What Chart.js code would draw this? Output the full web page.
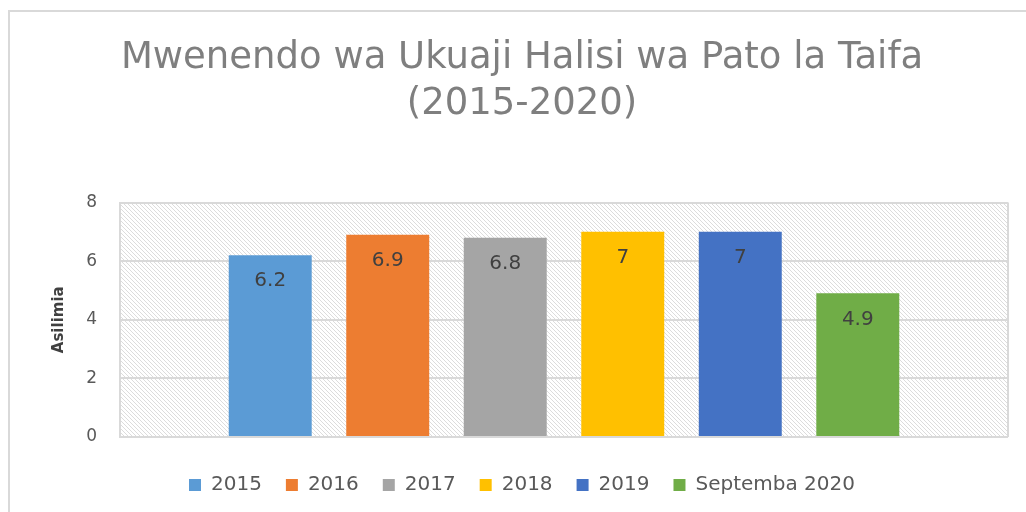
<!DOCTYPE html>
<html>
<head>
<meta charset="utf-8">
<script src="https://cdn.jsdelivr.net/npm/chart.js@4.4.1/dist/chart.umd.min.js"></script>
<style>
  html, body { margin: 0; padding: 0; background: #fff; overflow: hidden; }
  #wrap { position: relative; width: 1026px; height: 512px; }
  #frame { position: absolute; left: 8px; top: 10px; width: 1040px; height: 520px;
           border-left: 2px solid #d9d9d9; border-top: 2px solid #d9d9d9; }
  canvas { position: absolute; left: 0; top: 0; }
</style>
</head>
<body>
<div id="wrap">
  <div id="frame"></div>
  <canvas id="grafico" width="1026" height="512"></canvas>
</div>
<script>
// Ukuaji halisi wa Pato la Taifa (asilimia)
const mfululizo = ['2015', '2016', '2017', '2018', '2019', 'Septemba 2020'];
const thamani = [6.2, 6.9, 6.8, 7, 7, 4.9];
const rangi = ['#5b9bd5', '#ed7d31', '#a5a5a5', '#ffc000', '#4472c4', '#70ad47'];
const kategoria = [''];
const alamaY = [0, 2, 4, 6, 8];

const fonti = 'DejaVu Sans';

// mchoro wa mistari ya mshazari kwa eneo la chati
function tengenezaMistari(ctx) {
  const c = document.createElement('canvas');
  c.width = 4; c.height = 4;
  const g = c.getContext('2d');
  const img = g.createImageData(4, 4);
  for (let i = 0; i < 16; i++) {
    img.data[i * 4] = 255; img.data[i * 4 + 1] = 255; img.data[i * 4 + 2] = 255; img.data[i * 4 + 3] = 255;
  }
  for (let i = 0; i < 4; i++) {
    const idx = (i * 4 + i) * 4;
    img.data[idx] = 220; img.data[idx + 1] = 220; img.data[idx + 2] = 220;
  }
  g.putImageData(img, 0, 0);
  return ctx.createPattern(c, 'repeat');
}

const usuliPlugin = {
  id: 'usuli',
  beforeDraw(chart) {
    const { ctx, chartArea: a } = chart;
    ctx.save();
    ctx.fillStyle = tengenezaMistari(ctx);
    ctx.fillRect(a.left, a.top, a.right - a.left, a.bottom - a.top);
    ctx.strokeStyle = '#d9d9d9';
    ctx.lineWidth = 2;
    ctx.beginPath();
    ctx.moveTo(a.right, a.top);
    ctx.lineTo(a.right, a.bottom);
    ctx.stroke();
    ctx.restore();
  }
};

const leboPlugin = {
  id: 'lebo',
  afterDatasetsDraw(chart) {
    const ctx = chart.ctx;
    ctx.save();
    ctx.font = '20px "' + fonti + '"';
    ctx.fillStyle = '#404040';
    ctx.textAlign = 'center';
    ctx.textBaseline = 'middle';
    chart.data.datasets.forEach((ds, i) => {
      const meta = chart.getDatasetMeta(i);
      meta.data.forEach((bar, j) => {
        ctx.fillText(String(ds.data[j]), bar.x, bar.y + 26);
      });
    });
    ctx.restore();
  }
};

const ctx = document.getElementById('grafico').getContext('2d');
new Chart(ctx, {
  type: 'bar',
  data: {
    labels: kategoria,
    datasets: mfululizo.map((lbl, i) => ({
      label: lbl,
      data: [thamani[i]],
      backgroundColor: rangi[i],
      borderWidth: 0,
      categoryPercentage: 0.794,
      barPercentage: 0.706
    }))
  },
  options: {
    responsive: false,
    animation: false,
    layout: { padding: { left: 36, right: 18, top: 0, bottom: 7 } },
    plugins: {
      title: {
        display: true,
        text: ['Mwenendo wa Ukuaji Halisi wa Pato la Taifa', '(2015-2020)'],
        color: '#7f7f7f',
        font: { family: fonti, size: 37, weight: 'normal', lineHeight: 1.25 },
        padding: { top: 35, bottom: 75 }
      },
      legend: {
        position: 'bottom',
        labels: {
          color: '#595959',
          font: { family: fonti, size: 20 },
          boxWidth: 12,
          boxHeight: 12,
          padding: 24
        }
      },
      tooltip: { enabled: false }
    },
    scales: {
      x: {
        grid: { display: false },
        border: { display: false },
        ticks: { display: false },
        afterFit(s) { s.height = 14; }
      },
      y: {
        min: 0,
        max: 8,
        afterBuildTicks(s) { s.ticks = alamaY.map(v => ({ value: v })); },
        afterFit(s) { s.width = 84; },
        grid: { color: '#d9d9d9', lineWidth: 2, drawTicks: false },
        border: { display: true, color: '#d9d9d9', width: 2 },
        ticks: {
          color: '#595959',
          font: { family: fonti, size: 17 },
          padding: 23
        },
        title: {
          display: true,
          text: 'Asilimia',
          color: '#404040',
          font: { family: fonti, size: 15, weight: 'bold' },
          padding: { top: 14, bottom: 0 }
        }
      }
    }
  },
  plugins: [usuliPlugin, leboPlugin]
});
</script>
</body>
</html>
